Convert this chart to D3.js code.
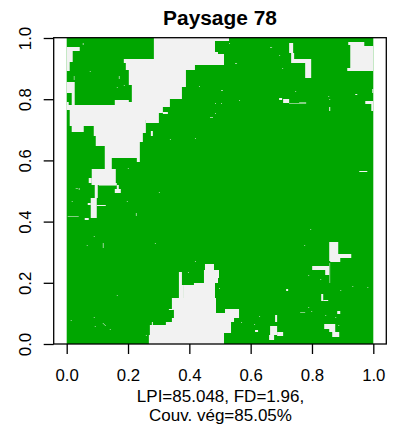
<!DOCTYPE html>
<html><head><meta charset="utf-8">
<style>html,body{margin:0;padding:0;background:#fff}svg{display:block}text{font-family:"Liberation Sans",Arial,sans-serif;fill:#000}</style>
<script src="https://cdn.jsdelivr.net/npm/d3@7"></script></head><body>
<script>
const titleText = "Paysage 78";
const captionLines = ["LPI=85.048, FD=1.96,", "Couv. vég=85.05%"];
const tickValues = [0, 0.2, 0.4, 0.6, 0.8, 1];
const gridSize = 306;
const coverColor = "#00A600", bareColor = "#F2F2F2";
// Bare-soil runs on a gridSize × gridSize landscape: [colStart, colEnd, rowStart, rowEnd], rows from the top
const bareUpper = [
[87,162,0,3],[87,148,3,14],[87,151,14,16],[87,157,16,21],[57,157,21,25],[59,157,25,27],[59,128,27,32],[62,119,32,47],[65,119,47,49],[65,115,49,61],
[65,103,61,64],[48,62,62,64],[48,103,64,67],[0,103,67,69],[0,96,69,72],[3,96,72,75],[96,101,74,76],[3,92,75,82],[3,79,82,88],[79,92,82,85],
[5,17,88,94],[27,79,88,95],[84,86,93,98],[27,76,95,98],[29,76,98,104],[29,73,104,108],[38,73,108,120],[38,45,120,131],[70,73,120,124],[25,49,131,147],
[22,25,140,145],[25,50,145,147],[28,31,147,160],[50,52,147,152],[48,54,151,155],[24,30,160,180],[21,24,165,167],[30,39,167,168],[18,22,180,182],
[0,13,9,13],[0,6,13,24],[0,3,24,33],[0,8,44,55],[5,8,55,67],[0,2,64,72]
];
const bareLower = [
[138,147,226,232],[137,152,232,240],[137,151,240,245],[127,148,245,247],[117,148,247,260],[112,115,234,247],[112,117,247,260],[105,149,260,271],[102,107,271,272],[107,149,271,275],
[158,172,271,275],[107,172,275,280],[105,167,280,284],[99,164,284,287],[85,86,284,287],[83,164,287,295],[83,157,295,297],[82,157,297,306]
];
const bareRight = [
[281,297,4,7],[283,297,7,8],[283,306,8,30],[280,306,30,33],[222,226,5,15],[224,227,15,21],[224,244,21,25],[238,244,25,40],
[216,222,61,65],[212,215,60,62],[298,306,63,66],[304,306,66,73],[292,300,133,134],[288,290,56,57],[262,263,69,73],[305,306,51,55],
[262,271,204,223],[263,273,216,224],[271,284,216,220],[245,262,228,232],[258,262,232,237],[219,221,251,253],[254,256,256,263],[256,261,262,263],[270,273,273,276],
[208,210,277,284],[188,191,292,294],[203,210,288,297],[210,216,294,298],[202,207,297,302],[257,268,286,291],[262,268,291,294],[265,272,294,299]
];
// Thin, partly mixed runs
const mixedRuns = [[1,12,178,179],[32,50,147,148],[7,8,38,42],[222,239,65,66],[232,239,64,65],[262,263,225,245],[233,238,274,275]];
const bareSpecks = [
[203,9],[204,9],[212,17],[168,25],[169,25],[215,30],[162,5],[154,52],[154,65],[172,62],[228,53],[261,58],[262,61],
[16,5],[16,6],[23,33],[52,38],[52,39],[52,40],[57,47],[50,49],[132,48],[155,52],[148,65],[148,75],[143,79],[144,79],[145,79],[103,101],[128,100],[61,130],[10,150],[12,150],
[9,150],[12,151],[92,154],[60,163],[5,163],[69,175],[69,176],[69,177],[27,198],[20,207],[36,205],[36,206],[36,207],[36,208],[36,209],[88,205],[128,223],[121,234],[152,250],[50,257],[4,282],[27,279],[28,288],[36,285],[37,286],[38,287],[43,291],[79,297],
[285,248],[300,249],[273,252],[241,269],[192,278],[187,286],[243,191],[237,207],[241,237],[244,273],[258,277],[268,279],[174,284],[271,287],[253,241]
];

const width = 395, height = 430;
const x = d3.scaleLinear().domain([0, 1]).range([66.7, 373.3]);
const y = d3.scaleLinear().domain([0, 1]).range([344, 38]);
const svg = d3.select("body").append("svg").attr("width", width).attr("height", height);

svg.append("rect").attr("x", x(0)).attr("y", y(1)).attr("width", x(1) - x(0)).attr("height", y(0) - y(1)).attr("fill", coverColor);

const drawRuns = (data, opacity) => svg.append("g").attr("opacity", opacity).selectAll("rect").data(data).join("rect")
  .attr("x", d => x(d[0] / gridSize))
  .attr("width", d => x(d[1] / gridSize) - x(d[0] / gridSize))
  .attr("y", d => y(1 - d[2] / gridSize))
  .attr("height", d => y(1 - d[3] / gridSize) - y(1 - d[2] / gridSize))
  .attr("fill", bareColor);
drawRuns(bareUpper.concat(bareLower, bareRight), 1);
drawRuns(mixedRuns, 0.55);
drawRuns(bareSpecks.map(d => [d[0], d[0] + 1, d[1], d[1] + 1]), 0.65);

svg.append("rect").attr("x", 53.7).attr("y", 37.7).attr("width", 332.6).attr("height", 306.3).attr("fill", "none").attr("stroke", "#000").attr("stroke-width", 1.3);

const fmt = d3.format(".1f");
const xAxis = svg.append("g").attr("transform", "translate(0,344)")
  .call(d3.axisBottom(x).tickValues(tickValues).tickFormat(fmt).tickSize(10));
const yAxis = svg.append("g").attr("transform", "translate(53.7,0)")
  .call(d3.axisLeft(y).tickValues(tickValues).tickFormat(fmt).tickSize(10));
[xAxis, yAxis].forEach(a => {
  a.select(".domain").remove();
  a.selectAll("line").attr("stroke", "#000").attr("stroke-width", 1.3);
  a.selectAll("text").attr("font-size", 16.8).attr("font-family", '"Liberation Sans"').attr("fill", "#000").attr("dy", 0);
});
xAxis.selectAll("text").attr("y", 37);
yAxis.selectAll("text").attr("transform", "rotate(-90)").attr("text-anchor", "middle").attr("x", 0).attr("y", -22.7);

svg.append("text").attr("x", 220).attr("y", 25).attr("text-anchor", "middle").attr("font-size", 20.9).attr("font-weight", "bold").text(titleText);
svg.selectAll(".cap").data(captionLines).join("text").attr("class", "cap")
  .attr("x", 220.5).attr("y", (d, i) => 402 + i * 19).attr("text-anchor", "middle").attr("font-size", 17).text(d => d);
</script></body></html>
